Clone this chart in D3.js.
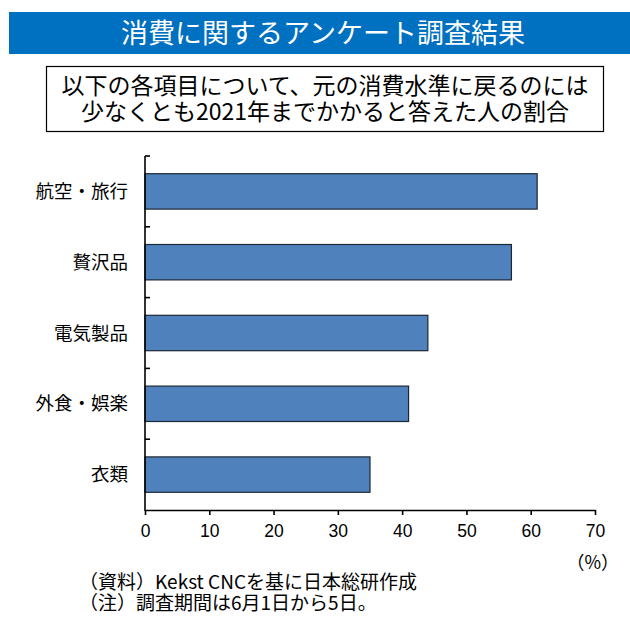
<!DOCTYPE html>
<html>
<head>
<meta charset="utf-8">
<script src="https://cdn.jsdelivr.net/npm/d3@7"></script>
<style>
  html, body { margin: 0; padding: 0; background: #fff; }
  svg { display: block; }
  text { font-family: "Noto Sans CJK JP", "Noto Sans", sans-serif; }
</style>
</head>
<body>
<script>
// Survey data: share of respondents expecting spending to recover no earlier than 2021
const categories = ["航空・旅行", "贅沢品", "電気製品", "外食・娯楽", "衣類"];
const values = [61, 57, 44, 41, 35];
const xTicks = [0, 10, 20, 30, 40, 50, 60, 70];

const titleText = "消費に関するアンケート調査結果";
const subtitleLines = [
  "以下の各項目について、元の消費水準に戻るのには",
  "少なくとも2021年までかかると答えた人の割合"
];
const unitText = "（%）";
const notes = [
  "（資料）Kekst CNCを基に日本総研作成",
  "（注）調査期間は6月1日から5日。"
];

const W = 630, H = 621;
const svg = d3.select("body").append("svg").attr("width", W).attr("height", H);

// Title banner
svg.append("rect").attr("x", 9).attr("y", 12).attr("width", W - 9).attr("height", 42)
  .attr("fill", "#0070C0");
svg.append("text").attr("x", 323).attr("y", 43).attr("text-anchor", "middle")
  .attr("fill", "#fff").attr("font-size", 27).text(titleText);

// Subtitle box
svg.append("rect").attr("x", 46.5).attr("y", 66.5).attr("width", 557).attr("height", 65)
  .attr("fill", "#fff").attr("stroke", "#000").attr("stroke-width", 1.2);
subtitleLines.forEach((t, i) => {
  svg.append("text").attr("x", 325).attr("y", 94 + i * 26).attr("text-anchor", "middle")
    .attr("fill", "#000").attr("font-size", 23).text(t);
});

// Scales
const x = d3.scaleLinear().domain([0, 70]).range([145, 595]);
const y = d3.scaleBand().domain(categories).range([156, 510]).paddingInner(0.5).paddingOuter(0.25);

// Bars
svg.append("g").selectAll("rect").data(categories).join("rect")
  .attr("x", x(0))
  .attr("y", d => y(d))
  .attr("width", (d, i) => x(values[i]) - x(0))
  .attr("height", y.bandwidth())
  .attr("fill", "#4F81BD")
  .attr("stroke", "#1c2733")
  .attr("stroke-width", 1.2);

// X axis
const xAxis = svg.append("g").attr("transform", "translate(0,510)")
  .call(d3.axisBottom(x).tickValues(xTicks).tickSizeInner(5).tickSizeOuter(0).tickPadding(10));
xAxis.select(".domain").attr("stroke", "#000").attr("stroke-width", 1.6);
xAxis.selectAll(".tick line").attr("stroke", "#000").attr("stroke-width", 1.6);
xAxis.selectAll(".tick text").attr("font-size", 17.5).attr("fill", "#000")
  .style("font-family", "'Liberation Sans', Arial, sans-serif");

// Y axis: line with ticks at category boundaries
const step = y.step();
const yAxisG = svg.append("g");
yAxisG.append("line").attr("x1", x(0)).attr("x2", x(0)).attr("y1", 156).attr("y2", 511)
  .attr("stroke", "#000").attr("stroke-width", 1.6);
d3.range(categories.length).forEach(i => {
  const yy = y.range()[0] + i * step;
  yAxisG.append("line").attr("x1", x(0)).attr("x2", x(0) + 5).attr("y1", yy).attr("y2", yy)
    .attr("stroke", "#000").attr("stroke-width", 1.6);
});
yAxisG.selectAll("text.cat").data(categories).join("text").attr("class", "cat")
  .attr("x", 128).attr("y", d => y(d) + y.bandwidth() / 2 + 6.5)
  .attr("text-anchor", "end").attr("font-size", 18.5).attr("fill", "#000")
  .text(d => d);

// Unit label
svg.append("text").attr("x", 619).attr("y", 569).attr("text-anchor", "end")
  .attr("font-size", 18).attr("fill", "#000").text(unitText);

// Notes
notes.forEach((t, i) => {
  svg.append("text").attr("x", 79).attr("y", 589 + i * 21)
    .attr("font-size", 19).attr("fill", "#000").text(t);
});
</script>
</body>
</html>
